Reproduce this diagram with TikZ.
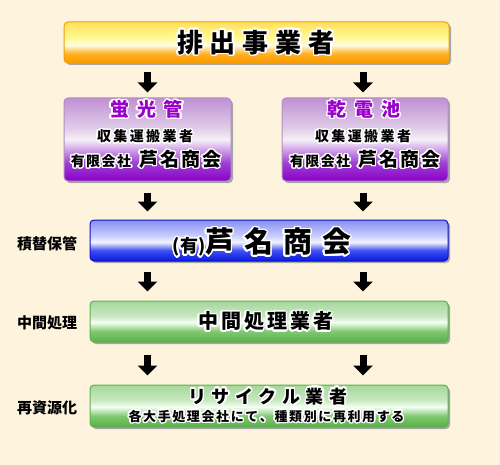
\documentclass[tikz,border=0pt]{standalone}
\usepackage{fontspec}
\setmainfont{Noto Sans CJK JP}
\usepackage[copies]{contour}
\contourlength{1.4pt}
\contournumber{24}
\usetikzlibrary{arrows.meta,shadows}

\definecolor{bg}{HTML}{FEF4DE}
% orange
\definecolor{orA}{HTML}{FF9800}
\definecolor{orB}{HTML}{FFB020}
\definecolor{orC}{HTML}{FFFCE8}
\definecolor{orD}{HTML}{FFFA90}
\definecolor{orE}{HTML}{FFE060}
\definecolor{orLine}{HTML}{F0A000}
% purple
\definecolor{puA}{HTML}{8A00C8}
\definecolor{puB}{HTML}{A040D4}
\definecolor{puC}{HTML}{F6F0F8}
\definecolor{puD}{HTML}{E0CCE8}
\definecolor{puE}{HTML}{C090D4}
\definecolor{puLine}{HTML}{B090C0}
\definecolor{puText}{HTML}{9900CC}
% blue
\definecolor{blA}{HTML}{0818E0}
\definecolor{blB}{HTML}{4050F0}
\definecolor{blC}{HTML}{F2F4FF}
\definecolor{blD}{HTML}{C8CCFF}
\definecolor{blE}{HTML}{8890F0}
\definecolor{blLine}{HTML}{1010C8}
% green
\definecolor{grA}{HTML}{58B048}
\definecolor{grB}{HTML}{80C870}
\definecolor{grC}{HTML}{F4FFF2}
\definecolor{grD}{HTML}{C8E8C0}
\definecolor{grE}{HTML}{A4D89C}
\definecolor{grLine}{HTML}{60B050}

\pgfdeclareverticalshading{orgloss}{100bp}{color(0bp)=(orA); color(25bp)=(orA); color(36bp)=(orB); color(47bp)=(orC); color(56bp)=(orD); color(75bp)=(orE); color(100bp)=(orE)}
\pgfdeclareverticalshading{pugloss}{100bp}{color(0bp)=(puA); color(25bp)=(puA); color(36bp)=(puB); color(50bp)=(puC); color(57bp)=(puD); color(75bp)=(puE); color(100bp)=(puE)}
\pgfdeclareverticalshading{blgloss}{100bp}{color(0bp)=(blA); color(25bp)=(blA); color(38bp)=(blB); color(48bp)=(blC); color(56bp)=(blD); color(75bp)=(blE); color(100bp)=(blE)}
\pgfdeclareverticalshading{grgloss}{100bp}{color(0bp)=(grA); color(25bp)=(grA); color(38bp)=(grB); color(49bp)=(grC); color(57bp)=(grD); color(75bp)=(grE); color(100bp)=(grE)}

\protected\def\spaced#1#2{\def\spgap{#1}\spacedloop#2\spacedend}
\protected\def\spacedloop#1#2\spacedend{#1\ifx\relax#2\relax\else\kern\spgap\spacedloop#2\spacedend\fi}
\protected\def\fs#1{\fontsize{#1pt}{#1pt}\selectfont\bfseries}

\begin{document}
\begin{tikzpicture}[x=1pt,y=-1pt,
  box/.style={rounded corners=4pt, inner sep=0pt, line width=1pt, shade,
    drop shadow={shadow xshift=2pt, shadow yshift=-2pt, fill=black!35, opacity=1}},
  lbl/.style={inner sep=0pt, text=black},
  side/.style={inner sep=0pt, text=black, font=\fs{15}},
  barrow/.style={line width=7pt, draw=black, -{Triangle[width=19pt,length=10pt]}}]
\useasboundingbox[fill=bg] (0,0) rectangle (500,465);

% boxes
\node[box, shading=orgloss, draw=orLine, minimum width=385pt, minimum height=41pt] (top) at (256.5,42.5) {};
\node[box, shading=pugloss, draw=puLine, minimum width=167pt, minimum height=83pt] (pl) at (147.5,139.5) {};
\node[box, shading=pugloss, draw=puLine, minimum width=166pt, minimum height=83pt] (pr) at (365,139.5) {};
\node[box, shading=blgloss, draw=blLine, minimum width=358pt, minimum height=41pt] (blue) at (269,240.5) {};
\node[box, shading=grgloss, draw=grLine, minimum width=358pt, minimum height=41pt] (g1) at (269,321.5) {};
\node[box, shading=grgloss, draw=grLine, minimum width=358pt, minimum height=42pt] (g2) at (269,406) {};

% texts
\node[lbl] (tTop) at (256,43) {\fs{26}\contour{white}{\spaced{7pt}{排出事業者}}};

\node[lbl] (tPl1) at (146.5,110) {\fs{19}\color{puText}\contour{white}{\spaced{8pt}{蛍光管}}};
\node[lbl] (tPl2) at (145,137) {\fs{14}\contour{white}{\spaced{2.4pt}{収集運搬業者}}};
\node[lbl] (tPl3) at (146,160) {\contour{white}{{\fs{14}\spaced{1.5pt}{有限会社}}\kern8pt{\fs{19}\spaced{2pt}{芦名商会}}}};

\node[lbl] (tPr1) at (364,110) {\fs{19}\color{puText}\contour{white}{\spaced{8pt}{乾電池}}};
\node[lbl] (tPr2) at (363,137) {\fs{14}\contour{white}{\spaced{2.4pt}{収集運搬業者}}};
\node[lbl] (tPr3) at (365,160) {\contour{white}{{\fs{14}\spaced{1.5pt}{有限会社}}\kern8pt{\fs{19}\spaced{2pt}{芦名商会}}}};

\node[lbl] (tBl) at (262,243) {\contour{white}{{\fs{18}(有)}{\fs{29}\spaced{10pt}{芦名商会}}}};
\node[lbl] (tG1) at (265.5,322) {\fs{20}\contour{white}{\spaced{3pt}{中間処理業者}}};
\node[lbl] (tG2a) at (268,397) {\fs{18}\contour{white}{\spaced{5.5pt}{リサイクル業者}}};
\node[lbl] (tG2b) at (266.5,417) {\fs{13}\contour{white}{\spaced{1.6pt}{各大手処理会社にて、種類別に再利用する}}};

% side labels
\node[side] (sBl) at (47,244) {積替保管};
\node[side] (sG1) at (47,323) {中間処理};
\node[side] (sG2) at (47,408) {再資源化};

% arrows
\draw[barrow, shorten <=9pt, shorten >=5pt] (top.south -| pl.north) -- (pl.north);
\draw[barrow, shorten <=9pt, shorten >=5pt] ([xshift=-2pt]top.south -| pr.north) -- ([xshift=-2pt]pr.north);
\draw[barrow, shorten <=11pt, shorten >=8pt] (pl.south) -- (pl.south |- blue.north);
\draw[barrow, shorten <=11pt, shorten >=8pt] ([xshift=-2pt]pr.south) -- ([xshift=-2pt]pr.south |- blue.north);
\draw[barrow, shorten <=10pt, shorten >=9pt] (blue.south -| pl.south) -- (g1.north -| pl.south);
\draw[barrow, shorten <=10pt, shorten >=9pt] ([xshift=-2pt]blue.south -| pr.south) -- ([xshift=-2pt]g1.north -| pr.south);
\draw[barrow, shorten <=12pt, shorten >=9pt] (g1.south -| pl.south) -- (g2.north -| pl.south);
\draw[barrow, shorten <=12pt, shorten >=9pt] ([xshift=-2pt]g1.south -| pr.south) -- ([xshift=-2pt]g2.north -| pr.south);
\end{tikzpicture}
\end{document}
